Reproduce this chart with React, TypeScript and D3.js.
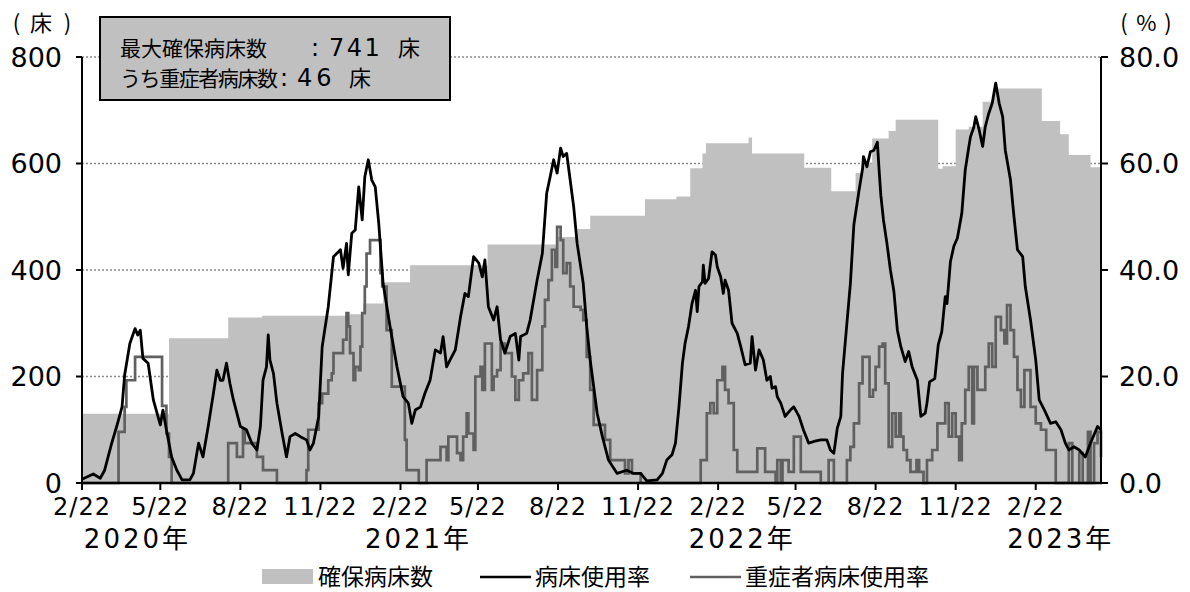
import React from "react";
import * as d3 from "d3";

const START = "2020-02-22";
const END = "2023-05-08";

// 確保病床数 (beds, step changes)
const bedDates = [
  "2020-02-22", "2020-06-01", "2020-08-08", "2020-09-16", "2020-12-26", "2021-01-10", "2021-02-02",
  "2021-03-05", "2021-06-02", "2021-08-20", "2021-09-13", "2021-09-28", "2021-11-30", "2022-01-05",
  "2022-01-21", "2022-02-04", "2022-02-08", "2022-03-29", "2022-04-02", "2022-06-01", "2022-07-02",
  "2022-07-30", "2022-08-07", "2022-08-18", "2022-09-06", "2022-09-14", "2022-11-02", "2022-11-07",
  "2022-11-22", "2022-12-07", "2022-12-23", "2023-01-05", "2023-01-10", "2023-03-01", "2023-03-22",
  "2023-04-01", "2023-04-26",
];
const bedCounts = [
  130, 272, 311, 314, 317, 337, 377,
  409, 448, 462, 477, 502, 533, 538,
  591, 619, 638, 649, 619, 592, 548,
  582, 600, 647, 661, 682, 590, 595,
  664, 669, 716, 735, 741, 680, 655,
  616, 593,
];

// 病床使用率 (%)
const useDates = [
  "2020-02-22", "2020-03-06", "2020-03-14", "2020-03-19", "2020-03-27", "2020-04-02", "2020-04-08", "2020-04-11",
  "2020-04-17", "2020-04-23", "2020-04-26", "2020-04-29", "2020-05-02", "2020-05-08", "2020-05-14", "2020-05-22",
  "2020-05-25", "2020-05-29", "2020-06-04", "2020-06-10", "2020-06-16", "2020-06-25", "2020-06-29", "2020-07-05",
  "2020-07-10", "2020-07-16", "2020-07-22", "2020-07-26", "2020-07-30", "2020-08-02", "2020-08-06", "2020-08-10",
  "2020-08-14", "2020-08-22", "2020-08-29", "2020-09-04", "2020-09-10", "2020-09-14", "2020-09-17", "2020-09-21",
  "2020-09-23", "2020-09-25", "2020-09-29", "2020-10-03", "2020-10-09", "2020-10-14", "2020-10-18", "2020-10-24",
  "2020-10-30", "2020-11-06", "2020-11-10", "2020-11-14", "2020-11-20", "2020-11-24", "2020-12-01", "2020-12-07",
  "2020-12-15", "2020-12-18", "2020-12-22", "2020-12-24", "2020-12-28", "2021-01-01", "2021-01-05", "2021-01-09",
  "2021-01-12", "2021-01-16", "2021-01-20", "2021-01-24", "2021-01-28", "2021-02-02", "2021-02-10", "2021-02-18",
  "2021-02-25", "2021-03-03", "2021-03-07", "2021-03-11", "2021-03-17", "2021-03-22", "2021-03-28", "2021-04-03",
  "2021-04-09", "2021-04-12", "2021-04-16", "2021-04-20", "2021-04-26", "2021-05-02", "2021-05-07", "2021-05-11",
  "2021-05-17", "2021-05-23", "2021-05-27", "2021-05-30", "2021-06-03", "2021-06-09", "2021-06-13", "2021-06-17",
  "2021-06-22", "2021-06-28", "2021-07-04", "2021-07-08", "2021-07-10", "2021-07-17", "2021-07-21", "2021-07-29",
  "2021-08-04", "2021-08-09", "2021-08-13", "2021-08-17", "2021-08-21", "2021-08-25", "2021-08-28", "2021-09-01",
  "2021-09-05", "2021-09-09", "2021-09-13", "2021-09-20", "2021-09-24", "2021-09-28", "2021-10-06", "2021-10-12",
  "2021-10-19", "2021-10-29", "2021-11-09", "2021-11-17", "2021-11-25", "2021-12-02", "2021-12-14", "2021-12-20",
  "2021-12-25", "2021-12-31", "2022-01-04", "2022-01-08", "2022-01-12", "2022-01-15", "2022-01-19", "2022-01-23",
  "2022-01-27", "2022-01-29", "2022-01-31", "2022-02-04", "2022-02-05", "2022-02-07", "2022-02-11", "2022-02-15",
  "2022-02-19", "2022-02-21", "2022-02-25", "2022-02-28", "2022-03-02", "2022-03-06", "2022-03-10", "2022-03-16",
  "2022-03-20", "2022-03-25", "2022-03-31", "2022-04-02", "2022-04-06", "2022-04-10", "2022-04-15", "2022-04-19",
  "2022-04-23", "2022-04-25", "2022-04-29", "2022-05-01", "2022-05-05", "2022-05-10", "2022-05-16", "2022-05-20",
  "2022-05-26", "2022-05-31", "2022-06-06", "2022-06-12", "2022-06-20", "2022-06-27", "2022-07-01", "2022-07-05",
  "2022-07-09", "2022-07-13", "2022-07-15", "2022-07-20", "2022-07-24", "2022-07-28", "2022-08-03", "2022-08-07",
  "2022-08-08", "2022-08-12", "2022-08-16", "2022-08-20", "2022-08-24", "2022-08-26", "2022-08-28", "2022-08-31",
  "2022-09-04", "2022-09-08", "2022-09-12", "2022-09-16", "2022-09-20", "2022-09-25", "2022-09-29", "2022-10-03",
  "2022-10-09", "2022-10-13", "2022-10-18", "2022-10-20", "2022-10-23", "2022-10-29", "2022-11-02", "2022-11-06",
  "2022-11-10", "2022-11-12", "2022-11-16", "2022-11-20", "2022-11-24", "2022-11-29", "2022-12-03", "2022-12-07",
  "2022-12-09", "2022-12-13", "2022-12-15", "2022-12-19", "2022-12-23", "2022-12-26", "2022-12-30", "2023-01-03",
  "2023-01-07", "2023-01-11", "2023-01-15", "2023-01-18", "2023-01-24", "2023-01-28", "2023-02-01", "2023-02-07",
  "2023-02-10", "2023-02-16", "2023-02-22", "2023-02-26", "2023-03-04", "2023-03-11", "2023-03-17", "2023-03-23",
  "2023-03-28", "2023-04-01", "2023-04-07", "2023-04-13", "2023-04-20", "2023-04-26", "2023-05-04", "2023-05-08",
];
const useRates = [
  0.7, 1.7, 0.9, 2.4, 7.4, 10.7, 14.3, 20.3,
  26.2, 29.0, 27.8, 28.7, 23.4, 22.5, 15.6, 10.9,
  13.7, 10.0, 4.9, 2.4, 0.6, 0.6, 1.8, 7.5,
  4.9, 10.6, 16.8, 21.2, 19.3, 19.3, 22.5, 18.7,
  15.6, 10.6, 10.0, 7.5, 6.2, 10.6, 19.3, 21.8,
  27.8, 23.1, 20.6, 15.0, 9.3, 4.9, 8.7, 9.3,
  8.7, 8.1, 6.2, 7.5, 12.5, 25.6, 33.1, 42.5,
  43.8, 40.3, 45.0, 39.1, 46.9, 47.5, 55.6, 49.4,
  57.5, 60.7, 56.9, 55.6, 48.8, 37.5, 29.4, 21.8,
  16.2, 15.0, 11.2, 13.7, 14.3, 16.8, 19.3, 25.0,
  24.4, 27.5, 21.8, 23.1, 25.0, 31.2, 35.6, 35.0,
  42.5, 41.3, 38.7, 41.9, 33.1, 30.6, 33.1, 26.9,
  24.4, 27.5, 28.1, 23.1, 27.5, 28.1, 30.6, 38.1,
  43.1, 54.4, 57.5, 60.7, 58.2, 62.9, 61.3, 61.9,
  56.9, 51.9, 45.0, 37.5, 29.4, 23.1, 13.1, 8.7,
  4.3, 1.8, 2.4, 1.8, 1.8, 0.4, 0.6, 1.8,
  4.3, 5.3, 7.5, 14.3, 22.5, 26.2, 29.4, 33.7,
  36.2, 32.2, 36.9, 37.8, 40.9, 37.5, 38.4, 43.4,
  42.8, 40.6, 38.7, 35.6, 38.1, 36.2, 30.0, 28.1,
  25.6, 22.2, 22.5, 27.5, 21.2, 25.0, 23.1, 19.3,
  20.0, 17.8, 18.1, 16.2, 15.0, 12.5, 13.7, 14.3,
  12.5, 10.0, 7.5, 7.8, 8.1, 8.1, 6.2, 5.6,
  10.3, 12.5, 20.6, 30.0, 37.5, 48.5, 55.0, 59.0,
  61.3, 59.4, 62.2, 62.5, 64.0, 58.8, 54.0, 49.4,
  45.0, 40.0, 36.0, 28.7, 25.6, 22.8, 24.7, 21.8,
  19.3, 12.5, 13.1, 15.0, 19.0, 19.6, 26.0, 28.4,
  35.0, 33.7, 41.6, 44.5, 46.0, 50.6, 58.8, 63.0,
  65.0, 66.9, 68.8, 66.3, 63.2, 66.9, 69.4, 71.3,
  75.1, 71.3, 68.8, 62.5, 56.9, 50.0, 43.8, 42.5,
  36.9, 30.6, 23.1, 15.6, 13.7, 11.2, 11.5, 10.0,
  7.5, 6.2, 6.8, 6.2, 4.9, 7.5, 10.6, 10.0,
];

// 重症者病床使用率 (%), step changes
const sevDates = [
  "2020-02-22", "2020-04-04", "2020-04-11", "2020-04-13", "2020-04-23", "2020-05-24", "2020-05-29", "2020-06-01",
  "2020-06-04", "2020-08-08", "2020-08-18", "2020-08-25", "2020-08-27", "2020-09-10", "2020-09-17", "2020-10-03",
  "2020-11-06", "2020-11-08", "2020-11-20", "2020-11-24", "2020-12-01", "2020-12-05", "2020-12-07", "2020-12-18",
  "2020-12-22", "2020-12-24", "2020-12-26", "2020-12-30", "2021-01-01", "2021-01-05", "2021-01-07", "2021-01-09",
  "2021-01-12", "2021-01-14", "2021-01-18", "2021-01-30", "2021-02-01", "2021-02-06", "2021-02-12", "2021-02-27",
  "2021-03-01", "2021-03-15", "2021-03-24", "2021-04-09", "2021-04-16", "2021-04-18", "2021-04-28", "2021-05-02",
  "2021-05-05", "2021-05-09", "2021-05-11", "2021-05-17", "2021-05-19", "2021-05-25", "2021-05-27", "2021-05-30",
  "2021-06-07", "2021-06-09", "2021-06-13", "2021-06-17", "2021-06-22", "2021-06-30", "2021-07-04", "2021-07-08",
  "2021-07-13", "2021-07-19", "2021-07-23", "2021-07-29", "2021-08-04", "2021-08-07", "2021-08-11", "2021-08-15",
  "2021-08-19", "2021-08-21", "2021-08-25", "2021-08-28", "2021-09-01", "2021-09-05", "2021-09-09", "2021-09-17",
  "2021-09-20", "2021-09-24", "2021-09-28", "2021-10-02", "2021-10-15", "2021-10-21", "2021-11-07", "2021-11-11",
  "2021-11-15", "2021-11-25", "2022-02-02", "2022-02-09", "2022-02-13", "2022-02-17", "2022-02-21", "2022-02-27",
  "2022-03-02", "2022-03-06", "2022-03-12", "2022-03-16", "2022-04-08", "2022-04-17", "2022-04-29", "2022-05-01",
  "2022-05-05", "2022-05-07", "2022-05-14", "2022-05-20", "2022-05-28", "2022-06-20", "2022-06-29", "2022-07-05",
  "2022-07-20", "2022-07-24", "2022-07-28", "2022-08-03", "2022-08-07", "2022-08-15", "2022-08-19", "2022-08-22",
  "2022-08-26", "2022-08-30", "2022-09-02", "2022-09-06", "2022-09-10", "2022-09-14", "2022-09-18", "2022-09-20",
  "2022-09-23", "2022-09-27", "2022-10-01", "2022-10-08", "2022-10-11", "2022-10-16", "2022-10-20", "2022-10-26",
  "2022-11-01", "2022-11-10", "2022-11-14", "2022-11-18", "2022-11-22", "2022-11-26", "2022-11-29", "2022-12-03",
  "2022-12-07", "2022-12-11", "2022-12-13", "2022-12-17", "2022-12-26", "2022-12-30", "2023-01-03", "2023-01-07",
  "2023-01-13", "2023-01-17", "2023-01-20", "2023-01-24", "2023-01-28", "2023-02-01", "2023-02-05", "2023-02-09",
  "2023-02-16", "2023-02-22", "2023-02-28", "2023-03-06", "2023-03-17", "2023-04-01", "2023-04-05", "2023-04-13",
  "2023-04-17", "2023-04-23", "2023-04-26", "2023-04-30", "2023-05-04", "2023-05-08",
];
const sevRates = [
  0, 9.6, 14.3, 19.3, 23.7, 14.5, 9.3, 4.9,
  0, 7.5, 4.9, 10.0, 7.5, 4.9, 2.4, 0,
  2.4, 10.0, 15.0, 16.8, 19.3, 20.6, 24.4, 26.9,
  31.9, 29.4, 24.4, 19.3, 21.8, 21.2, 25.6, 31.9,
  36.9, 43.1, 45.6, 39.4, 36.9, 28.7, 18.1, 8.1,
  2.4, 0, 4.3, 6.8, 4.3, 8.7, 5.6, 4.3,
  8.7, 13.1, 9.3, 6.2, 20.0, 21.8, 17.5, 26.2,
  17.5, 20.0, 21.2, 26.2, 24.4, 20.0, 15.6, 19.3,
  20.6, 24.4, 15.6, 21.2, 29.4, 34.4, 38.1, 43.8,
  40.6, 48.1, 45.6, 39.4, 41.3, 36.9, 33.1, 32.5,
  30.6, 23.7, 17.5, 10.9, 8.1, 4.3, 1.8, 4.3,
  1.8, 0, 4.3, 13.1, 15.0, 13.1, 19.3, 21.8,
  17.5, 15.0, 6.2, 2.1, 6.5, 2.1, 0, 4.3,
  0, 4.3, 2.1, 8.7, 2.1, 0, 4.3, 0,
  4.3, 6.8, 11.2, 18.7, 23.7, 16.2, 17.5, 21.8,
  25.6, 26.2, 18.7, 6.8, 13.1, 8.7, 13.1, 8.7,
  6.2, 4.3, 2.1, 4.3, 2.1, 0, 4.3, 6.2,
  11.2, 15.0, 8.7, 13.1, 8.7, 4.3, 11.2, 17.5,
  21.8, 11.2, 21.8, 17.5, 21.8, 26.2, 21.8, 31.2,
  28.7, 26.2, 33.4, 28.7, 23.7, 17.5, 14.3, 21.2,
  14.3, 11.2, 10.0, 6.2, 0, 7.5, 0, 5.6,
  0, 9.6, 0, 7.5, 9.6, 4.9,
];

const leftTicks = [0, 200, 400, 600, 800];
const rightTicks = [0, 20, 40, 60, 80];
const xTickDates = [
  "2020-02-22", "2020-05-22", "2020-08-22", "2020-11-22", "2021-02-22", "2021-05-22", "2021-08-22",
  "2021-11-22", "2022-02-22", "2022-05-22", "2022-08-22", "2022-11-22", "2023-02-22",
];
const xTickLabels = ["2/22", "5/22", "8/22", "11/22", "2/22", "5/22", "8/22", "11/22", "2/22", "5/22", "8/22", "11/22", "2/22"];
const yearDigits = ["2020", "2021", "2022", "2023"];
const yearAnchorDates = ["2020-04-24", "2021-03-13", "2022-03-20", "2023-03-21"];
const legendLabels = ["確保病床数", "病床使用率", "重症者病床使用率"];
const infoLine1 = ["最大確保病床数", ":", "741", "床"];
const infoLine2 = ["うち重症者病床数", ":", "46", "床"];
const leftUnit = ["(", "床", ")"];
const rightUnit = ["(", "%", ")"];

const parse = d3.timeParse("%Y-%m-%d");
const NUM = "'DejaVu Sans', 'Noto Sans CJK JP', sans-serif";
const CJK = "'Noto Sans CJK JP', 'Noto Sans CJK SC', sans-serif";

export default function App() {
  const W = 1190;
  const H = 592;
  const L = 82, R = 1101, T = 57, B = 483;

  const x = d3.scaleTime().domain([parse(START)!, parse(END)!]).range([L, R]);
  const yBeds = d3.scaleLinear().domain([0, 800]).range([B, T]);
  const yPct = d3.scaleLinear().domain([0, 80]).range([B, T]);

  type P = { date: Date; v: number };
  const bedPts: P[] = bedDates.map((d, i) => ({ date: parse(d)!, v: bedCounts[i] }));
  bedPts.push({ date: parse(END)!, v: bedCounts[bedCounts.length - 1] });
  const usePts: P[] = useDates.map((d, i) => ({ date: parse(d)!, v: useRates[i] }));
  const sevPts: P[] = sevDates.map((d, i) => ({ date: parse(d)!, v: sevRates[i] }));

  const area = d3
    .area<P>()
    .x((d) => x(d.date))
    .y0(B)
    .y1((d) => yBeds(d.v))
    .curve(d3.curveStepAfter);
  const useLine = d3
    .line<P>()
    .x((d) => x(d.date))
    .y((d) => yPct(d.v))
    .curve(d3.curveLinear);
  const sevLine = d3
    .line<P>()
    .x((d) => x(d.date))
    .y((d) => yPct(d.v))
    .curve(d3.curveStepAfter);

  const leftUnitX = [16.5, 41, 67.5];
  const rightUnitX = [1124, 1146.5, 1168];

  return (
    <svg
      width={W}
      height={H}
      viewBox={`0 0 ${W} ${H}`}
      style={{ position: "absolute", left: 0, top: 0, background: "#fff" }}
    >
      <rect x={0} y={0} width={W} height={H} fill="#fff" />
      {/* grid */}
      {leftTicks
        .filter((t) => t > 0)
        .map((t) => (
          <line key={"g" + t} x1={L} x2={R} y1={yBeds(t)} y2={yBeds(t)} stroke="#8a8a8a" strokeWidth={1.6} strokeDasharray="2,2" />
        ))}
      {/* beds area */}
      <path d={area(bedPts) || ""} fill="#c0c0c0" stroke="none" />
      {/* severe usage */}
      <path d={sevLine(sevPts) || ""} fill="none" stroke="#606060" strokeWidth={2.7} strokeLinejoin="miter" />
      {/* usage */}
      <path d={useLine(usePts) || ""} fill="none" stroke="#000" strokeWidth={2.8} strokeLinejoin="round" />

      {/* axes */}
      <line x1={L} x2={L} y1={T} y2={B + 1} stroke="#000" strokeWidth={2} />
      <line x1={R} x2={R} y1={T} y2={B + 1} stroke="#000" strokeWidth={2} />
      <line x1={L - 1} x2={R + 1} y1={B} y2={B} stroke="#000" strokeWidth={2.6} />
      {leftTicks.map((t) => (
        <g key={"l" + t}>
          <line x1={L - 6} x2={L} y1={yBeds(t)} y2={yBeds(t)} stroke="#000" strokeWidth={2} />
          <text x={62} y={yBeds(t) + 9.5} textAnchor="end" fontFamily={NUM} fontSize={27} fill="#000">
            {t}
          </text>
        </g>
      ))}
      {rightTicks.map((t) => (
        <g key={"r" + t}>
          <line x1={R} x2={R + 7} y1={yPct(t)} y2={yPct(t)} stroke="#000" strokeWidth={2} />
          <text x={1119} y={yPct(t) + 9.5} textAnchor="start" fontFamily={NUM} fontSize={27} fill="#000">
            {t.toFixed(1)}
          </text>
        </g>
      ))}
      {xTickDates.map((d, i) => {
        const xx = x(parse(d)!);
        return (
          <g key={"x" + i}>
            <line x1={xx} x2={xx} y1={B} y2={B + 7} stroke="#000" strokeWidth={2} />
            <text x={xx} y={515} textAnchor="middle" fontFamily={NUM} fontSize={24} letterSpacing={1} fill="#000">
              {xTickLabels[i]}
            </text>
          </g>
        );
      })}
      {yearDigits.map((yd, i) => (
        <text key={"y" + yd} x={x(parse(yearAnchorDates[i])!)} y={548} textAnchor="middle" fill="#000">
          <tspan fontFamily={NUM} fontSize={26} letterSpacing={3}>
            {yd}
          </tspan>
          <tspan fontFamily={CJK} fontSize={26}>
            年
          </tspan>
        </text>
      ))}

      {/* unit labels */}
      {leftUnit.map((s, i) => (
        <text key={"lu" + i} x={leftUnitX[i]} y={31} textAnchor="middle" fontFamily={CJK} fontSize={22} fill="#000">
          {s}
        </text>
      ))}
      {rightUnit.map((s, i) => (
        <text key={"ru" + i} x={rightUnitX[i]} y={31} textAnchor="middle" fontFamily={CJK} fontSize={22} fill="#000">
          {s}
        </text>
      ))}

      {/* info box */}
      <rect x={100} y={17} width={350} height={83} fill="#c0c0c0" stroke="#000" strokeWidth={2} />
      <text x={120} y={56} fontFamily={CJK} fontSize={21} fill="#000">
        {infoLine1[0]}
      </text>
      <text x={311} y={56} fontFamily={NUM} fontSize={24} fill="#000">
        {infoLine1[1]}
      </text>
      <text x={329} y={56} fontFamily={NUM} fontSize={24} letterSpacing={2.5} fill="#000">
        {infoLine1[2]}
      </text>
      <text x={398} y={56} fontFamily={CJK} fontSize={22} fill="#000">
        {infoLine1[3]}
      </text>
      <text x={120} y={86} fontFamily={CJK} fontSize={21} textLength={158} lengthAdjust="spacing" fill="#000">
        {infoLine2[0]}
      </text>
      <text x={280} y={86} fontFamily={NUM} fontSize={24} fill="#000">
        {infoLine2[1]}
      </text>
      <text x={297} y={86} fontFamily={NUM} fontSize={24} letterSpacing={4} fill="#000">
        {infoLine2[2]}
      </text>
      <text x={349} y={86} fontFamily={CJK} fontSize={22} fill="#000">
        {infoLine2[3]}
      </text>

      {/* legend */}
      <rect x={262} y={569} width={51} height={15} fill="#c0c0c0" />
      <text x={318} y={585} fontFamily={CJK} fontSize={23} fill="#000">
        {legendLabels[0]}
      </text>
      <line x1={480} x2={531} y1={577} y2={577} stroke="#000" strokeWidth={2.6} />
      <text x={535} y={585} fontFamily={CJK} fontSize={23} fill="#000">
        {legendLabels[1]}
      </text>
      <line x1={690} x2={741} y1={577} y2={577} stroke="#606060" strokeWidth={2.6} />
      <text x={745} y={585} fontFamily={CJK} fontSize={23} fill="#000">
        {legendLabels[2]}
      </text>
    </svg>
  );
}
